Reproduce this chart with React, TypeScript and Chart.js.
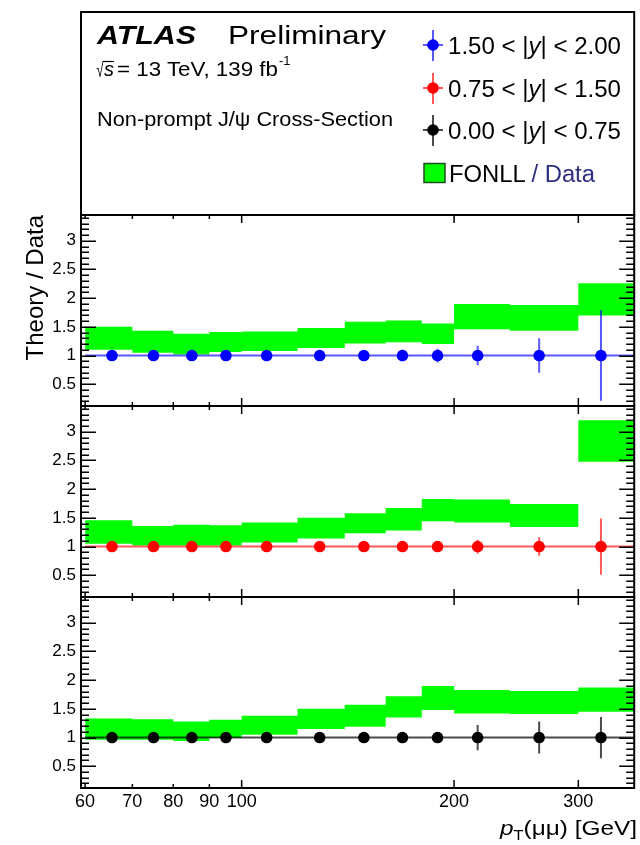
import { useEffect, useRef } from 'react';
import { Chart, registerables } from 'chart.js';

Chart.register(...registerables);

const FONT = "'Liberation Sans', Arial, Helvetica, sans-serif";

// pT(μμ) binning [GeV] and mean pT of each bin
const BIN_EDGES = [60, 70, 80, 90, 100, 120, 140, 160, 180, 200, 240, 300, 360];
const PT_CENTRES = [65.5, 75, 85, 95, 108.5, 129, 149, 169, 189.5, 216, 264, 323];
const X_TICKS = [60, 70, 80, 90, 100, 200, 300];
const Y_TICKS = [0.5, 1, 1.5, 2, 2.5, 3];
const X_MIN = 59.2;
const X_MAX = 360;
const Y_MIN = 0.12;
const Y_MAX = 3.45;

// Rapidity slices
const Y_SLICES = [
  [1.5, 2.0],
  [0.75, 1.5],
  [0.0, 0.75],
];

// Data / Data with the relative data uncertainty
const RATIO_FWD = [1, 1, 1, 1, 1, 1, 1, 1, 1, 1, 1, 1];
const ERR_FWD = [0.02, 0.02, 0.02, 0.02, 0.02, 0.03, 0.05, 0.1, 0.12, 0.17, 0.3, 0.79];
const RATIO_MID = [1, 1, 1, 1, 1, 1, 1, 1, 1, 1, 1, 1];
const ERR_MID = [0.02, 0.02, 0.02, 0.02, 0.02, 0.03, 0.04, 0.05, 0.07, 0.12, 0.16, 0.49];
const RATIO_CEN = [1, 1, 1, 1, 1, 1, 1, 1, 1, 1, 1, 1];
const ERR_CEN = [0.02, 0.02, 0.02, 0.02, 0.03, 0.04, 0.09, 0.07, 0.09, 0.22, 0.28, 0.36];

// FONLL / Data uncertainty band (upper and lower edge per bin)
const FONLL_HI_FWD = [1.5, 1.43, 1.38, 1.41, 1.42, 1.48, 1.59, 1.61, 1.56, 1.9, 1.88, 2.26];
const FONLL_LO_FWD = [1.1, 1.05, 1.02, 1.06, 1.08, 1.13, 1.21, 1.23, 1.2, 1.46, 1.43, 1.7];
const FONLL_HI_MID = [1.46, 1.36, 1.38, 1.37, 1.42, 1.5, 1.58, 1.67, 1.83, 1.82, 1.74, 3.2];
const FONLL_LO_MID = [1.05, 1.02, 1.02, 1.02, 1.07, 1.14, 1.23, 1.28, 1.44, 1.42, 1.34, 2.48];
const FONLL_HI_CEN = [1.33, 1.32, 1.28, 1.31, 1.38, 1.5, 1.57, 1.72, 1.9, 1.83, 1.81, 1.87];
const FONLL_LO_CEN = [0.96, 0.96, 0.94, 0.99, 1.05, 1.15, 1.19, 1.35, 1.48, 1.42, 1.41, 1.45];

const GREEN = '#00ff00';
const COLORS = ['#0000ff', '#ff0000', '#000000'];
const BAR_COLORS = ['rgba(0,0,255,0.65)', 'rgba(255,0,0,0.65)', 'rgba(0,0,0,0.7)'];

const PANELS = [
  { axis: 'yTop', ratio: RATIO_FWD, err: ERR_FWD, hi: FONLL_HI_FWD, lo: FONLL_LO_FWD },
  { axis: 'yMid', ratio: RATIO_MID, err: ERR_MID, hi: FONLL_HI_MID, lo: FONLL_LO_MID },
  { axis: 'yBot', ratio: RATIO_CEN, err: ERR_CEN, hi: FONLL_HI_CEN, lo: FONLL_LO_CEN },
];

const HEADER_TOP = 12;

// Frames, inward ROOT-style ticks on all four sides of every pad, and the header box
const padFrames = {
  id: 'padFrames',
  afterDatasetsDraw(chart: any) {
    const { ctx, chartArea } = chart;
    const { left, right } = chartArea;
    const xs = chart.scales.x;
    ctx.save();
    ctx.strokeStyle = '#000';
    ctx.lineWidth = 2;
    ctx.strokeRect(left, HEADER_TOP, right - left, chartArea.top - HEADER_TOP);
    for (const p of PANELS) {
      const s = chart.scales[p.axis];
      ctx.lineWidth = 2;
      ctx.strokeRect(left, s.top, right - left, s.bottom - s.top);
      ctx.lineWidth = 1.5;
      ctx.beginPath();
      for (let i = 2; i <= 34; i++) {
        const py = Math.round(s.getPixelForValue(i / 10)) + 0.25;
        const len = i % 5 === 0 ? 15 : 8;
        ctx.moveTo(left, py);
        ctx.lineTo(left + len, py);
        ctx.moveTo(right, py);
        ctx.lineTo(right - len, py);
      }
      for (const v of X_TICKS) {
        const px = xs.getPixelForValue(v);
        const len = v >= 100 ? 8 : 4;
        ctx.moveTo(px, s.top);
        ctx.lineTo(px, s.top + len);
        ctx.moveTo(px, s.bottom);
        ctx.lineTo(px, s.bottom - len);
      }
      ctx.stroke();
    }
    ctx.restore();
  },
};

function yAxis(weight: number, withTitle: boolean) {
  return {
    type: 'linear',
    position: 'left',
    stack: 'pads',
    stackWeight: 1,
    weight,
    min: Y_MIN,
    max: Y_MAX,
    afterBuildTicks: (s: any) => {
      s.ticks = Y_TICKS.map((value) => ({ value }));
    },
    afterFit: (s: any) => {
      s.width = 81;
    },
    grid: { display: false, drawTicks: false },
    border: { display: false },
    ticks: {
      autoSkip: false,
      padding: 5,
      color: '#000',
      font: { family: FONT, size: 17 },
      callback: (v: any) => String(v),
    },
    title: {
      display: withTitle,
      text: 'Theory / Data',
      align: 'end',
      color: '#000',
      font: { family: FONT, size: 24 },
      padding: { top: 22, bottom: 0 },
    },
  };
}

function buildDatasets() {
  const datasets: any[] = [];
  PANELS.forEach((p, k) => {
    datasets.push({
      type: 'line',
      label: 'FONLL upper',
      xAxisID: 'x',
      yAxisID: p.axis,
      data: BIN_EDGES.map((x, i) => ({ x, y: p.hi[Math.min(i, p.hi.length - 1)] })),
      stepped: true,
      fill: '+1',
      backgroundColor: GREEN,
      borderColor: 'rgba(0,0,0,0)',
      borderWidth: 0,
      pointRadius: 0,
      order: 3,
    });
    datasets.push({
      type: 'line',
      label: 'FONLL lower',
      xAxisID: 'x',
      yAxisID: p.axis,
      data: BIN_EDGES.map((x, i) => ({ x, y: p.lo[Math.min(i, p.lo.length - 1)] })),
      stepped: true,
      fill: false,
      borderColor: 'rgba(0,0,0,0)',
      borderWidth: 0,
      pointRadius: 0,
      order: 3,
    });
    const hBars: any[] = [];
    const vBars: any[] = [];
    PT_CENTRES.forEach((pt, i) => {
      const r = p.ratio[i];
      hBars.push({ x: BIN_EDGES[i], y: r }, { x: BIN_EDGES[i + 1], y: r }, { x: BIN_EDGES[i + 1], y: null });
      vBars.push({ x: pt, y: r - p.err[i] }, { x: pt, y: r + p.err[i] }, { x: pt, y: null });
    });
    for (const bars of [hBars, vBars]) {
      datasets.push({
        type: 'line',
        label: 'uncertainty',
        xAxisID: 'x',
        yAxisID: p.axis,
        data: bars,
        spanGaps: false,
        fill: false,
        borderColor: BAR_COLORS[k],
        borderWidth: 2,
        pointRadius: 0,
        order: 2,
      });
    }
    datasets.push({
      type: 'scatter',
      label: 'data',
      xAxisID: 'x',
      yAxisID: p.axis,
      data: PT_CENTRES.map((x, i) => ({ x, y: p.ratio[i] })),
      pointRadius: 5.8,
      pointBackgroundColor: COLORS[k],
      pointBorderWidth: 0,
      borderWidth: 0,
      showLine: false,
      order: 1,
    });
  });
  return datasets;
}

function sliceLabel(s: number[]) {
  return [s[0].toFixed(2) + ' < |', s[1].toFixed(2)];
}

export default function App() {
  const ref = useRef<HTMLCanvasElement>(null);

  useEffect(() => {
    const chart = new Chart(ref.current as HTMLCanvasElement, {
      type: 'line',
      data: { datasets: buildDatasets() },
      plugins: [padFrames],
      options: {
        animation: false,
        responsive: false,
        maintainAspectRatio: false,
        devicePixelRatio: 1,
        layout: { padding: { left: 0, right: 2, top: 215, bottom: 0 } },
        plugins: {
          legend: { display: false },
          tooltip: { enabled: false },
        },
        scales: {
          x: {
            type: 'logarithmic',
            position: 'bottom',
            min: X_MIN,
            max: X_MAX,
            afterBuildTicks: (s: any) => {
              s.ticks = X_TICKS.map((value) => ({ value }));
            },
            afterFit: (s: any) => {
              s.height = 57;
            },
            grid: { display: false, drawTicks: false },
            border: { display: false },
            ticks: {
              autoSkip: false,
              maxRotation: 0,
              padding: 3,
              color: '#000',
              font: { family: FONT, size: 18 },
              callback: (v: any) => String(v),
            },
          },
          yTop: yAxis(3, true),
          yMid: yAxis(2, false),
          yBot: yAxis(1, false),
        } as any,
      },
    } as any);
    return () => chart.destroy();
  }, []);

  const entryY = [45, 88, 130];

  return (
    <div style={{ position: 'fixed', left: 0, top: 0, width: 640, height: 845, background: '#fff' }}>
      <canvas ref={ref} width={640} height={845} style={{ position: 'absolute', left: 0, top: 0 }} />
      <svg
        width={640}
        height={845}
        style={{ position: 'absolute', left: 0, top: 0, pointerEvents: 'none' }}
        fontFamily={FONT}
      >
        <text x={97} y={44} fontSize={25} fontWeight="bold" fontStyle="italic" textLength={99} lengthAdjust="spacingAndGlyphs">
          ATLAS
        </text>
        <text x={228} y={44} fontSize={25} textLength={158} lengthAdjust="spacingAndGlyphs">
          Preliminary
        </text>
        <text x={96.5} y={77} fontSize={20} textLength={7} lengthAdjust="spacingAndGlyphs">
          √
        </text>
        <line x1={103} x2={114} y1={61.5} y2={61.5} stroke="#000" strokeWidth={1.2} />
        <text x={104} y={76} fontSize={20} fontStyle="italic">
          s
        </text>
        <text x={117} y={76} fontSize={20} textLength={161} lengthAdjust="spacingAndGlyphs">
          = 13 TeV, 139 fb
        </text>
        <text x={279} y={65} fontSize={13}>
          -1
        </text>
        <text x={97} y={126} fontSize={20} textLength={296} lengthAdjust="spacingAndGlyphs">
          Non-prompt J/ψ Cross-Section
        </text>

        {Y_SLICES.map((s, k) => {
          const [a, b] = sliceLabel(s);
          const cy = entryY[k];
          return (
            <g key={k}>
              <line x1={433} x2={433} y1={cy - 15} y2={cy + 16} stroke={BAR_COLORS[k]} strokeWidth={2} />
              <line x1={423} x2={443} y1={cy} y2={cy} stroke={BAR_COLORS[k]} strokeWidth={2} />
              <circle cx={433} cy={cy} r={5.8} fill={COLORS[k]} />
              <text x={448} y={cy + 8.5} fontSize={23} textLength={173} lengthAdjust="spacingAndGlyphs">
                {a}
                <tspan fontStyle="italic">y</tspan>
                {'| < ' + b}
              </text>
            </g>
          );
        })}
        <rect x={424} y={163.5} width={21} height={19} fill={GREEN} stroke="#1e4d1e" strokeWidth={1.5} />
        <text x={449} y={182} fontSize={23} textLength={146} lengthAdjust="spacingAndGlyphs">
          FONLL<tspan fill="#2e2e80"> / Data</tspan>
        </text>

        <text x={500} y={835} fontSize={21} textLength={137} lengthAdjust="spacingAndGlyphs">
          <tspan fontStyle="italic">p</tspan>
          <tspan fontSize={14} dy={5}>
            T
          </tspan>
          <tspan dy={-5}>(μμ) [GeV]</tspan>
        </text>
      </svg>
    </div>
  );
}
